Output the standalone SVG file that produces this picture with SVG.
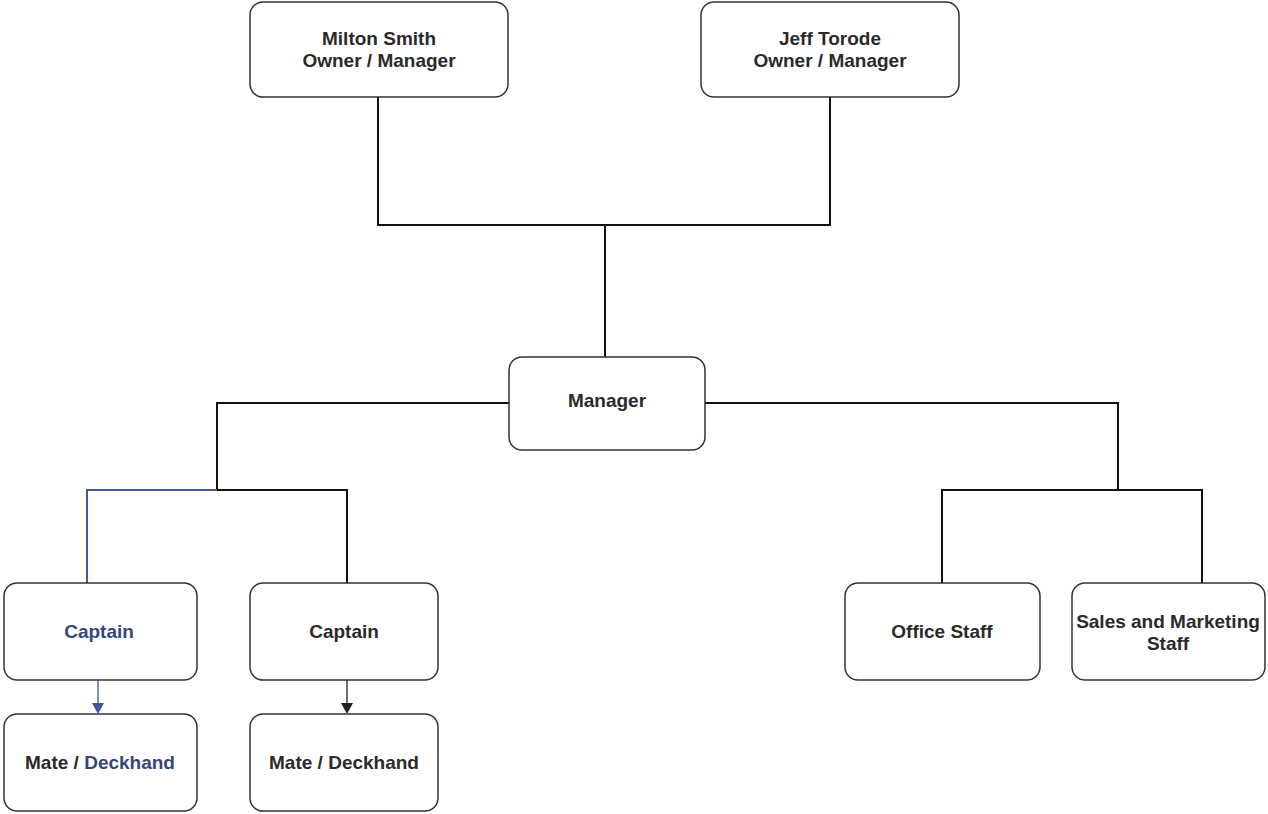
<svg xmlns="http://www.w3.org/2000/svg" width="1268" height="814" viewBox="0 0 1268 814">
<style>
.box{fill:#fff;stroke:#333;stroke-width:1.5}
.t{font-family:"Liberation Sans",Arial,sans-serif;font-weight:bold;font-size:19px;fill:#2a2a2a;text-anchor:middle}
.blue{fill:#34467a}
.c{fill:none;stroke:#111;stroke-width:2}
.cb{fill:none;stroke:#3b5a9a;stroke-width:2}
</style>
<rect width="1268" height="814" fill="#fff"/>
<g id="connectors">
<path class="c" d="M378,97 V225 H830 V97"/>
<path class="c" d="M605,225 V357"/>
<path class="c" d="M509,403 H217 V490 H347 V583"/>
<path class="cb" d="M217,490 H87 V583"/>
<path class="c" d="M704,403 H1118 V490"/>
<path class="c" d="M942,583 V490 H1202 V583"/>
<path fill="none" stroke="#3b5a9a" stroke-width="1.3" d="M98,680 V704"/>
<path fill="#3b5a9a" d="M92,703 L104,703 L98,714 Z"/>
<path fill="none" stroke="#222" stroke-width="1.3" d="M347,680 V704"/>
<path fill="#222" d="M341,703 L353,703 L347,714 Z"/>
</g>
<g id="milton"><rect class="box" x="250" y="2" width="258" height="95" rx="13"/><text class="t" x="379" y="45">Milton Smith</text><text class="t" x="379" y="67">Owner / Manager</text></g>
<g id="jeff"><rect class="box" x="701" y="2" width="258" height="95" rx="13"/><text class="t" x="830" y="45">Jeff Torode</text><text class="t" x="830" y="67">Owner / Manager</text></g>
<g id="manager"><rect class="box" x="509" y="357" width="196" height="93" rx="13"/><text class="t" x="607" y="407">Manager</text></g>
<g id="captain1"><rect class="box" x="4" y="583" width="193" height="97" rx="13"/><text class="t blue" x="99" y="638">Captain</text></g>
<g id="captain2"><rect class="box" x="250" y="583" width="188" height="97" rx="13"/><text class="t" x="344" y="638">Captain</text></g>
<g id="mate1"><rect class="box" x="4" y="714" width="193" height="97" rx="13"/><text class="t" x="100" y="769">Mate / <tspan class="blue">Deckhand</tspan></text></g>
<g id="mate2"><rect class="box" x="250" y="714" width="188" height="97" rx="13"/><text class="t" x="344" y="769">Mate / Deckhand</text></g>
<g id="office"><rect class="box" x="845" y="583" width="195" height="97" rx="13"/><text class="t" x="942" y="638">Office Staff</text></g>
<g id="sales"><rect class="box" x="1072" y="583" width="193" height="97" rx="13"/><text class="t" x="1168" y="628">Sales and Marketing</text><text class="t" x="1168" y="650">Staff</text></g>
</svg>
